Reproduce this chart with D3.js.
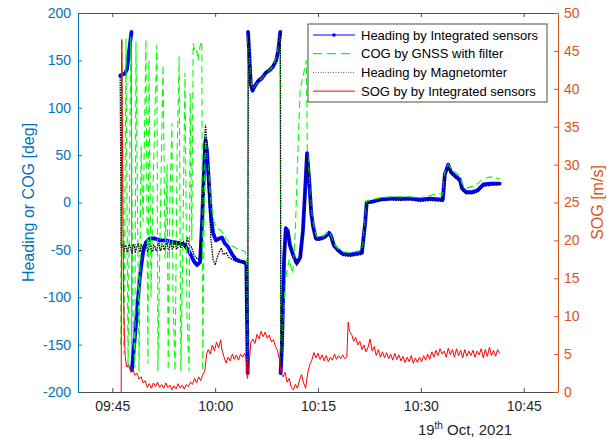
<!DOCTYPE html>
<html>
<head>
<meta charset="utf-8">
<script src="https://cdn.jsdelivr.net/npm/d3@7"></script>
<style>
body { margin: 0; background: #fff; }
text { font-family: "Liberation Sans", Arial, sans-serif; }
</style>
</head>
<body>
<div id="chart"></div>
<script>
// time = minutes after 09:40 on 19 Oct 2021
var headingIMU = [[6.15,134],[6.5,135],[6.85,136],[7.15,141],[7.45,160],[7.8,180],[7.85,-177],[8.2,-150],[8.6,-115],[9.0,-80],[9.2,-68],[9.5,-52],[9.9,-42],[10.5,-38],[11.2,-38],[12.0,-40],[12.7,-40],[13.4,-41],[14.2,-42],[14.9,-43],[15.6,-45],[16.3,-53],[16.9,-62],[17.35,-66],[17.8,-63],[18.1,-20],[18.4,40],[18.6,66],[18.8,55],[19.1,20],[19.4,-15],[19.7,-32],[20.1,-40],[20.6,-38],[21.0,-37],[21.4,-43],[21.9,-47],[22.5,-55],[23.0,-60],[23.6,-62],[24.2,-63],[24.55,-65],[24.75,-180],[24.8,180],[25.2,125],[25.45,118],[25.8,123],[26.25,128],[26.8,131],[27.4,137],[28.0,140],[28.4,143],[28.9,150],[29.2,160],[29.5,180],[29.55,-180],[29.75,-150],[30.05,-60],[30.3,-27],[30.6,-30],[30.9,-45],[31.5,-58],[31.9,-64],[32.4,-58],[32.8,-30],[33.1,10],[33.4,52],[33.7,25],[34.0,-10],[34.3,-26],[34.7,-38],[35.3,-38],[36.0,-36],[36.6,-32],[36.9,-35],[37.3,-45],[37.9,-50],[38.6,-54],[39.7,-55],[40.4,-54],[41.4,-53],[41.9,-20],[42.1,0],[42.9,1],[44.0,3],[45.5,4],[46.9,4],[48.4,4],[49.9,3],[51.3,4],[53.2,3],[53.5,30],[54.0,40],[54.4,32],[55.0,28],[55.7,24],[56.0,15],[56.6,11],[57.5,11],[58.3,13],[59.1,19],[60.1,20],[61.5,20]];

var cogGNSS = [[6.25,-150],[6.4,172],[6.7,-160],[7.0,173],[7.3,-175],[7.7,175],[8.0,-110],[8.3,-175],[8.45,170],[8.75,-60],[8.9,-178],[9.2,60],[9.5,-20],[9.9,172],[10.2,-170],[10.35,150],[10.65,-100],[10.95,20],[11.25,100],[11.5,166],[11.65,-178],[11.95,-40],[12.4,145],[12.7,-60],[13.0,40],[13.15,-177],[13.4,0],[13.7,84],[13.85,-100],[14.15,-178],[14.45,50],[14.75,154],[15.0,-178],[15.3,-40],[15.6,137],[15.9,-120],[16.2,-178],[16.35,116],[16.6,-40],[16.8,168],[17.05,158],[17.35,160],[17.5,150],[17.8,165],[18.05,170],[18.2,-178],[18.4,0],[18.55,60],[18.7,66],[19.0,35],[19.4,0],[19.8,-20],[20.3,-27],[20.9,-30],[21.6,-38],[22.3,-45],[23.0,-48],[23.8,-50],[24.4,-52],[24.6,-60],[24.75,-178],[24.8,178],[25.2,128],[25.5,120],[25.9,124],[26.3,128],[26.9,132],[27.5,138],[28.1,141],[28.5,145],[28.9,152],[29.2,162],[29.5,178],[29.6,-178],[29.9,-120],[30.3,-80],[30.8,-60],[31.3,-75],[31.7,-30],[32.0,40],[32.4,120],[32.9,136],[33.3,150],[33.45,55],[33.7,28],[34.0,-8],[34.4,-28],[34.8,-36],[35.4,-37],[36.0,-34],[36.6,-31],[36.9,-35],[37.3,-44],[37.9,-48],[38.6,-52],[39.7,-53],[40.4,-52],[41.4,-50],[41.9,-18],[42.1,2],[42.9,3],[44.0,5],[45.5,6],[46.9,6],[48.4,6],[49.9,5],[51.3,7],[52.5,10],[53.2,8],[53.5,32],[54.0,40],[54.4,36],[55.0,32],[55.7,28],[56.0,20],[56.6,15],[57.5,17],[58.3,20],[59.1,25],[60.1,27],[61.5,25]];

var headingMag = [[6.15,135],[6.3,-48],[6.5,-44],[6.7,-52],[6.85,-46],[7.0,-45],[7.15,-52],[7.3,-51],[7.45,-44],[7.6,-46],[7.75,-51],[7.9,-53],[8.05,-44],[8.2,-45],[8.35,-52],[8.5,-50],[8.65,-45],[8.8,-44],[8.95,-51],[9.1,-52],[9.25,-45],[9.4,-46],[9.55,-52],[9.7,-51],[9.85,-45],[10.0,-44],[10.15,-51],[10.3,-50],[10.45,-44],[10.6,-45],[10.75,-51],[10.9,-52],[11.05,-45],[11.2,-46],[11.35,-51],[11.5,-50],[11.65,-44],[11.8,-43],[11.95,-50],[12.1,-51],[12.25,-44],[12.4,-45],[12.55,-50],[12.7,-49],[12.85,-43],[13.0,-43],[13.15,-50],[13.3,-50],[13.45,-43],[13.6,-44],[13.75,-49],[13.9,-48],[14.05,-42],[14.2,-42],[14.35,-49],[14.5,-49],[14.65,-42],[14.8,-43],[14.95,-48],[15.1,-47],[15.25,-41],[15.4,-41],[15.55,-47],[15.7,-46],[15.85,-40],[16.0,-38],[16.15,-45],[16.3,-45],[16.45,-46],[16.6,-48],[16.9,-55],[17.2,-58],[17.5,-60],[17.8,-58],[18.1,-10],[18.4,60],[18.6,82],[18.8,60],[19.1,0],[19.4,-40],[19.7,-60],[20.0,-66],[20.3,-58],[20.6,-52],[20.9,-48],[21.2,-55],[21.6,-53],[22.0,-58],[22.5,-60],[23.0,-62],[23.6,-63],[24.2,-64],[24.6,-66],[24.75,-180],[24.85,178],[25.2,122],[25.5,119],[25.9,125],[26.3,130],[26.9,133],[27.5,138],[28.0,142],[28.5,146],[28.9,150],[29.2,158],[29.5,178],[29.6,-178],[29.8,-140],[30.05,-58],[30.3,-30],[30.6,-34],[30.9,-48],[31.5,-60],[31.9,-66],[32.4,-60],[32.8,-32],[33.1,8],[33.4,50],[33.7,22],[34.0,-12],[34.3,-28],[34.7,-40],[35.3,-40],[36.0,-38],[36.6,-34],[36.9,-37],[37.3,-47],[37.9,-52],[38.6,-56],[39.7,-57],[40.4,-56],[41.4,-55],[41.9,-22],[42.1,-1],[42.9,0],[44.0,2],[45.5,3],[46.9,2],[48.4,3],[49.9,1],[51.3,2],[53.2,1],[53.5,28],[54.0,38],[54.4,30],[55.0,26],[55.7,22],[56.0,13],[56.6,9],[57.5,9],[58.3,11],[59.1,17],[60.1,18],[61.5,19]];

var sogIMU = [[6.3,0],[6.38,46.5],[6.5,30],[6.62,14.8],[6.75,8],[6.9,4.5],[7.1,3.3],[7.4,3.6],[7.7,2.6],[8.0,3.0],[8.3,2.2],[8.6,2.5],[8.9,1.7],[9.2,2.0],[9.5,1.2],[9.8,1.5],[10.1,0.6],[10.4,1.1],[10.7,0.5],[11.0,1.2],[11.3,0.7],[11.6,1.3],[11.9,0.6],[12.2,1.0],[12.5,0.5],[12.8,1.2],[13.1,0.6],[13.4,0.9],[13.7,0.3],[14.0,0.8],[14.3,0.4],[14.6,1.1],[14.9,0.5],[15.2,0.9],[15.5,0.4],[15.8,1.0],[16.1,0.7],[16.4,1.3],[16.7,1.0],[17.0,1.8],[17.3,1.2],[17.6,2.0],[17.9,1.5],[18.2,2.3],[18.5,2.8],[18.75,5.0],[19.0,5.6],[19.3,5.0],[19.6,6.2],[19.9,5.4],[20.2,6.6],[20.5,5.8],[20.8,6.9],[21.0,5.5],[21.3,4.6],[21.6,3.8],[21.9,4.6],[22.2,4.1],[22.5,5.0],[22.8,4.3],[23.1,4.9],[23.4,4.2],[23.7,5.0],[24.0,4.6],[24.3,5.1],[24.5,4.5],[24.7,1.8],[24.9,3.0],[25.2,6.5],[25.5,7.0],[25.8,6.4],[26.1,7.6],[26.4,7.0],[26.7,8.0],[27.0,7.3],[27.3,7.9],[27.6,7.1],[27.9,7.5],[28.2,6.6],[28.5,6.9],[28.8,6.0],[29.1,5.5],[29.4,4.2],[29.6,2.5],[29.9,2.0],[30.2,2.6],[30.5,1.3],[30.8,1.8],[31.1,0.6],[31.4,0.3],[31.7,1.0],[32.0,0.5],[32.3,1.6],[32.6,2.3],[32.9,1.2],[33.2,0.5],[33.5,2.5],[33.8,3.6],[34.1,4.2],[34.4,5.2],[34.7,4.5],[35.0,5.1],[35.3,4.3],[35.6,4.9],[35.9,4.1],[36.2,4.8],[36.5,4.0],[36.8,4.6],[37.1,4.2],[37.4,5.0],[37.7,4.3],[38.0,4.8],[38.3,4.4],[38.6,4.9],[38.9,4.4],[39.2,4.6],[39.4,9.2],[39.6,8.0],[39.9,7.6],[40.2,6.7],[40.5,7.2],[40.8,6.2],[41.1,6.7],[41.4,5.6],[41.7,6.2],[42.0,5.3],[42.3,5.9],[42.6,7.0],[42.9,5.4],[43.2,6.0],[43.5,4.8],[43.8,5.6],[44.1,4.6],[44.4,5.3],[44.7,4.5],[45.0,5.2],[45.3,4.4],[45.6,5.0],[45.9,4.2],[46.2,5.1],[46.5,4.3],[46.8,4.9],[47.1,4.1],[47.4,4.7],[47.7,3.9],[48.0,4.6],[48.3,4.0],[48.6,4.8],[48.9,3.8],[49.2,4.5],[49.5,3.9],[49.8,4.6],[50.1,4.0],[50.4,4.8],[50.7,4.2],[51.0,5.0],[51.3,4.3],[51.6,5.3],[51.9,4.6],[52.2,5.5],[52.5,4.8],[52.8,5.7],[53.1,5.0],[53.4,5.4],[53.7,4.6],[54.0,5.8],[54.3,4.9],[54.6,5.6],[54.9,4.6],[55.2,5.7],[55.5,4.8],[55.8,5.5],[56.1,4.5],[56.4,5.6],[56.7,4.7],[57.0,5.4],[57.3,4.8],[57.6,5.5],[57.9,4.6],[58.2,5.4],[58.5,4.9],[58.8,5.7],[59.1,4.5],[59.4,5.6],[59.7,4.7],[60.0,5.9],[60.3,4.8],[60.6,5.5],[60.9,4.7],[61.2,5.6],[61.5,5.1]];

var xTickLabels = ["09:45", "10:00", "10:15", "10:30", "10:45"];
var leftTicks = [-200, -150, -100, -50, 0, 50, 100, 150, 200];
var rightTicks = [0, 5, 10, 15, 20, 25, 30, 35, 40, 45, 50];
var legendNames = ["Heading by Integrated sensors", "COG by GNSS with filter", "Heading by Magnetomter", "SOG by by Integrated sensors"];

var width = 607, height = 439;
var margin = {left: 78, right: 49, top: 13, bottom: 47};
var x0 = margin.left, x1 = width - margin.right, y0 = margin.top, y1 = height - margin.bottom;

var base = new Date(2021, 9, 19, 9, 40, 0);
function toTime(m) { return new Date(base.getTime() + m * 60000); }
var parseHM = d3.timeParse("%H:%M");
function tickTime(s) { var t = parseHM(s); return new Date(2021, 9, 19, t.getHours(), t.getMinutes()); }

var x = d3.scaleTime().domain([toTime(0), toTime(70)]).range([x0, x1]);
var yL = d3.scaleLinear().domain([-200, 200]).range([y1, y0]);
var yR = d3.scaleLinear().domain([0, 50]).range([y1, y0]);

var blueC = "#0072BD", orangeC = "#D95319", greyC = "#4d4d4d";

var svg = d3.select("#chart").append("svg")
    .attr("width", width).attr("height", height);

svg.append("defs").append("clipPath").attr("id", "clip")
    .append("rect").attr("x", x0).attr("y", y0).attr("width", x1 - x0).attr("height", y1 - y0);

var plot = svg.append("g").attr("clip-path", "url(#clip)");

var lineL = d3.line().x(function (d) { return x(toTime(d[0])); }).y(function (d) { return yL(d[1]); });
var lineR = d3.line().x(function (d) { return x(toTime(d[0])); }).y(function (d) { return yR(d[1]); });

// blue: thick where the samples are dense, thin on the +-180 wraps
var runs = [[headingIMU[0]]];
for (var i = 1; i < headingIMU.length; i++) {
    if (Math.abs(headingIMU[i][1] - headingIMU[i - 1][1]) > 200) runs.push([]);
    runs[runs.length - 1].push(headingIMU[i]);
}
plot.append("path").attr("d", lineL(headingIMU))
    .attr("fill", "none").attr("stroke", "#0000FF").attr("stroke-opacity", 0.6).attr("stroke-width", 1);
runs.forEach(function (r) {
    plot.append("path").attr("d", lineL(r))
        .attr("fill", "none").attr("stroke", "#0000FF").attr("stroke-width", 3.8)
        .attr("stroke-linejoin", "round").attr("stroke-linecap", "round");
});

plot.append("path").attr("d", lineL(cogGNSS))
    .attr("fill", "none").attr("stroke", "#00FF00").attr("stroke-width", 1.1)
    .attr("stroke-dasharray", "7,4");

plot.append("path").attr("d", lineL(headingMag))
    .attr("fill", "none").attr("stroke", "#000").attr("stroke-width", 1.3)
    .attr("stroke-dasharray", "1.5,1");

plot.append("path").attr("d", lineR(sogIMU))
    .attr("fill", "none").attr("stroke", "#FF0000").attr("stroke-width", 1);

// axes
var xTicks = xTickLabels.map(tickTime);
var fmt = d3.timeFormat("%H:%M");

var gBottom = svg.append("g").attr("transform", "translate(0," + y1 + ")")
    .call(d3.axisBottom(x).tickValues(xTicks).tickFormat(fmt).tickSize(-4).tickSizeOuter(0).tickPadding(9));
var gTop = svg.append("g").attr("transform", "translate(0," + y0 + ")")
    .call(d3.axisTop(x).tickValues(xTicks).tickFormat("").tickSize(-4).tickSizeOuter(0));
[gBottom, gTop].forEach(function (g) {
    g.select(".domain").attr("stroke", greyC);
    g.selectAll(".tick line").attr("stroke", greyC);
    g.selectAll("text").attr("fill", "#262626").style("font-size", "14px").style("font-family", "'Liberation Sans', Arial, sans-serif");
});

var gLeft = svg.append("g").attr("transform", "translate(" + x0 + ",0)")
    .call(d3.axisLeft(yL).tickValues(leftTicks).tickFormat(function (d) { return String(d); }).tickSize(-4).tickSizeOuter(0).tickPadding(7));
var gRight = svg.append("g").attr("transform", "translate(" + x1 + ",0)")
    .call(d3.axisRight(yR).tickValues(rightTicks).tickFormat(function (d) { return String(d); }).tickSize(-4).tickSizeOuter(0).tickPadding(6));
[[gLeft, blueC], [gRight, orangeC]].forEach(function (p) {
    p[0].select(".domain").attr("stroke", p[1]);
    p[0].selectAll(".tick line").attr("stroke", p[1]);
    p[0].selectAll("text").attr("fill", p[1]).style("font-size", "14px").style("font-family", "'Liberation Sans', Arial, sans-serif");
});

// axis labels
svg.append("text")
    .attr("transform", "translate(28," + ((y0 + y1) / 2) + ") rotate(-90)")
    .attr("text-anchor", "middle").attr("dominant-baseline", "central")
    .attr("fill", blueC).style("font-size", "16px")
    .text("Heading or COG [deg]");
svg.append("text")
    .attr("transform", "translate(597," + ((y0 + y1) / 2) + ") rotate(-90)")
    .attr("text-anchor", "middle").attr("dominant-baseline", "central")
    .attr("fill", orangeC).style("font-size", "16px")
    .text("SOG [m/s]");

var dateLabel = svg.append("text")
    .attr("x", 465).attr("y", 435)
    .attr("text-anchor", "middle").attr("fill", "#262626").style("font-size", "15px");
dateLabel.append("tspan").text("19");
dateLabel.append("tspan").attr("dy", -6).style("font-size", "10px").text("th");
dateLabel.append("tspan").attr("dy", 6).text(" Oct, 2021");

// legend
var lg = svg.append("g").attr("transform", "translate(308,24)");
lg.append("rect").attr("width", 239).attr("height", 78)
    .attr("fill", "#fff").attr("stroke", greyC).attr("stroke-width", 1);
var styles = [
    {c: "#0000FF", dash: null, w: 1},
    {c: "#00FF00", dash: "9,5", w: 1.2},
    {c: "#333", dash: "1,1.5", w: 0.8},
    {c: "#FF0000", dash: null, w: 1}
];
legendNames.forEach(function (name, i) {
    var yy = 11 + i * 18.7;
    lg.append("line").attr("x1", 5).attr("x2", 47).attr("y1", yy).attr("y2", yy)
        .attr("stroke", styles[i].c).attr("stroke-width", styles[i].w)
        .attr("stroke-dasharray", styles[i].dash);
    if (i === 0) lg.append("circle").attr("cx", 26).attr("cy", yy).attr("r", 1.8).attr("fill", "#0000FF");
    lg.append("text").attr("x", 53).attr("y", yy).attr("dominant-baseline", "central")
        .attr("fill", "#000").style("font-size", "13px").text(name);
});
</script>
</body>
</html>
